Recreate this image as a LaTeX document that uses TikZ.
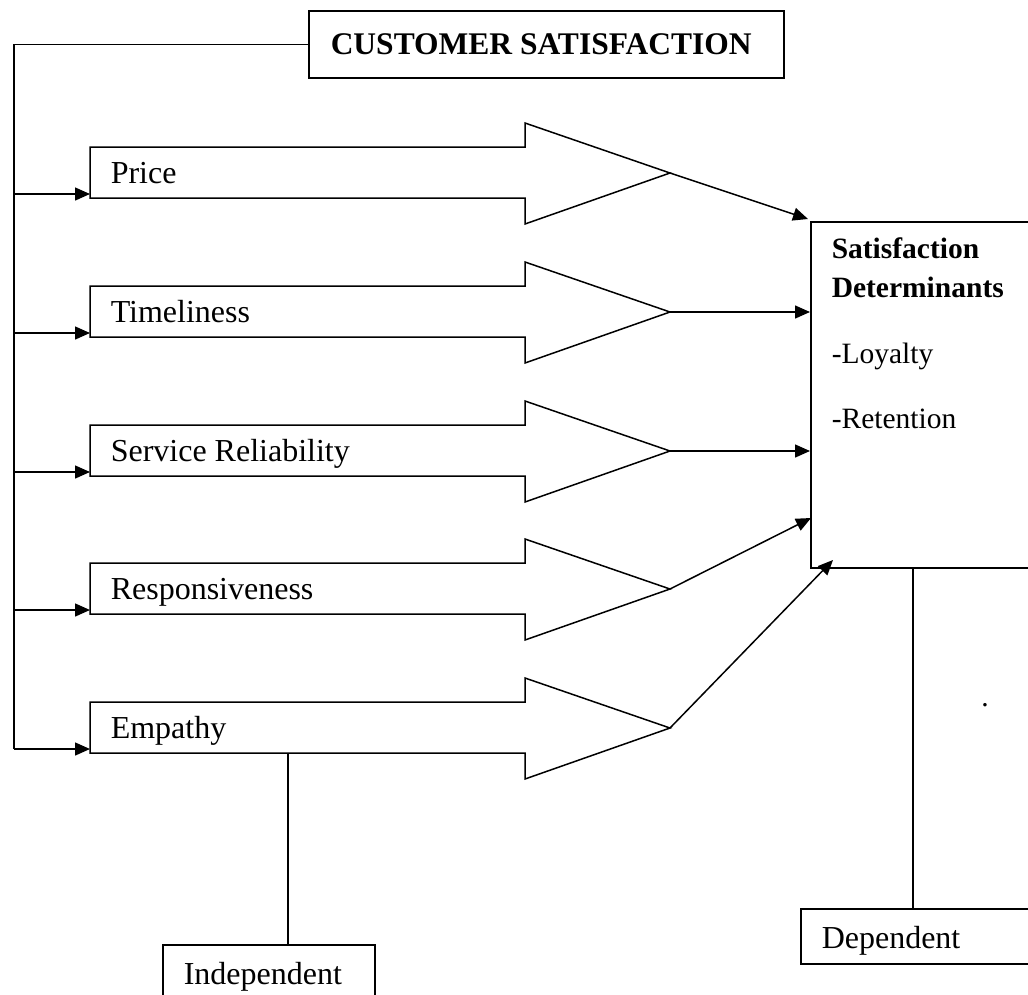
\documentclass[tikz,border=0pt]{standalone}
\usepackage{fontspec}
\setmainfont{Liberation Serif}
\usetikzlibrary{arrows.meta,calc}
\begin{document}
\begin{tikzpicture}[x=1pt,y=-1pt,
  line width=1.5pt,
  shapeline/.style={draw=black,line width=1.5pt,line join=miter},
  lbl/.style={inner sep=0pt,font=\fontsize{32}{38}\selectfont},
  blbl/.style={lbl,font=\fontsize{31.5}{38}\selectfont\bfseries},
  rlbl/.style={inner sep=0pt,font=\fontsize{29.5}{36}\selectfont},
  rblbl/.style={inner sep=0pt,font=\fontsize{29.5}{36}\selectfont\bfseries},
  arr/.style={-{Triangle[length=15pt,width=13pt]},line width=1.5pt},
  boxnode/.style={draw,line width=1.5pt,inner sep=0pt,anchor=north west}]
\useasboundingbox (0,0) rectangle (1028,994);
% top box
\node[boxnode,minimum width=475pt,minimum height=67pt] (cs) at (308,10) {};
\node[blbl,anchor=base west] (cstext) at (330,54) {CUSTOMER SATISFACTION};
% arrow shapes
\foreach \n/\c/\t in {price/173/Price,time/312/Timeliness,serv/451/Service Reliability,resp/589/Responsiveness,emp/728/Empathy}{
  \draw[shapeline] (90,\c-26) -- (525,\c-26) -- (525,\c-50) -- (670,\c) -- (525,\c+51) -- (525,\c+25) -- (90,\c+25) -- cycle;
  \node[lbl,anchor=base west] (\n) at (110,\c+10) {\t};
  \coordinate (\n tip) at (670,\c);
  \coordinate (\n in) at (90,\c+21);
  \coordinate (\n bus) at (14,\c+21);
}
% bus on the left
\draw (cs.west) -- (cs.west-|pricebus) -- (empbus);
\foreach \n in {price,time,serv,resp,emp}{
  \draw[arr] (\n bus) -- (\n in);
}
% right box
\node[boxnode,minimum width=240pt,minimum height=346pt] (det) at (810,221) {};
\node[rblbl,anchor=base west] (sat) at (831,258) {Satisfaction};
\node[rblbl,anchor=base west] (dtm) at (831,297) {Determinants};
\node[rlbl,anchor=base west] (loy) at (831,363) {-Loyalty};
\node[rlbl,anchor=base west] (ret) at (831,428) {-Retention};
\node[rlbl,anchor=base] (dot) at (985,706) {.};
% arrows into right box
\draw[arr] (pricetip) -- ($(det.north west)+(-2,-2)$);
\draw[arr] (timetip) -- (timetip-|det.west);
\draw[arr] (servtip) -- (servtip-|det.west);
\draw[arr] (resptip) -- ($(det.north west)+(1,297)$);
\draw[arr] (emptip) -- ($(det.north west)+(23,339)$);
% dependent
\node[boxnode,minimum width=240pt,minimum height=55pt] (dep) at (800,908) {};
\node[lbl,anchor=base west] (deptext) at (821,948) {Dependent};
\draw ($(det.south west)+(103,0)$) -- ($(dep.north west)+(113,0)$);
% independent
\node[boxnode,minimum width=212pt,minimum height=70pt] (ind) at (162,944) {};
\node[lbl,anchor=base west] (indtext) at (183,984) {Independent};
\coordinate (empbot) at (288,753);
\draw (empbot) -- (empbot|-ind.north);
\end{tikzpicture}
\end{document}
